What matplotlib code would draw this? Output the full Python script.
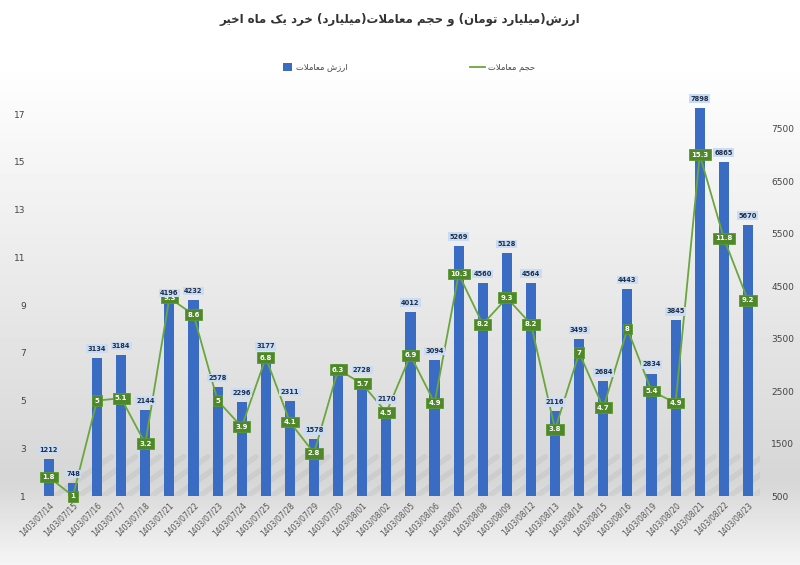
import numpy as np
import matplotlib.pyplot as plt
from matplotlib.lines import Line2D
from matplotlib.patches import Rectangle

# داده ها
dates = ['1403/07/14', '1403/07/15', '1403/07/16', '1403/07/17', '1403/07/18',
         '1403/07/21', '1403/07/22', '1403/07/23', '1403/07/24', '1403/07/25',
         '1403/07/28', '1403/07/29', '1403/07/30', '1403/08/01', '1403/08/02',
         '1403/08/05', '1403/08/06', '1403/08/07', '1403/08/08', '1403/08/09',
         '1403/08/12', '1403/08/13', '1403/08/14', '1403/08/15', '1403/08/16',
         '1403/08/19', '1403/08/20', '1403/08/21', '1403/08/22', '1403/08/23']
value = [1212, 748, 3134, 3184, 2144, 4196, 4232, 2578, 2296, 3177,
         2311, 1578, 3020, 2728, 2170, 4012, 3094, 5269, 4560, 5128,
         4564, 2116, 3493, 2684, 4443, 2834, 3845, 7898, 6865, 5670]
# برچسب میله ۱۴۰۳/۰۷/۳۰ در تصویر دیده نمی شود
value_shown = [True] * 30
value_shown[12] = False
volume = [1.8, 1, 5, 5.1, 3.2, 9.3, 8.6, 5, 3.9, 6.8,
          4.1, 2.8, 6.3, 5.7, 4.5, 6.9, 4.9, 10.3, 8.2, 9.3,
          8.2, 3.8, 7, 4.7, 8, 5.4, 4.9, 15.3, 11.8, 9.2]
left_ticks = [1, 3, 5, 7, 9, 11, 13, 15, 17]
right_ticks = [500, 1500, 2500, 3500, 4500, 5500, 6500, 7500]

title = 'ارزش(میلیارد تومان) و حجم معاملات(میلیارد) خرد یک ماه اخیر'
name_value = 'ارزش معاملات'
name_volume = 'حجم معاملات'

# شکل دادن حروف فارسی (matplotlib خودش این کار را نمی کند)
FORMS = {
    'ا': ('\ufe8d', '\ufe8e', None, None),
    'ت': ('\ufe95', '\ufe96', '\ufe97', '\ufe98'),
    'ج': ('\ufe9d', '\ufe9e', '\ufe9f', '\ufea0'),
    'ح': ('\ufea1', '\ufea2', '\ufea3', '\ufea4'),
    'خ': ('\ufea5', '\ufea6', '\ufea7', '\ufea8'),
    'د': ('\ufea9', '\ufeaa', None, None),
    'ر': ('\ufead', '\ufeae', None, None),
    'ز': ('\ufeaf', '\ufeb0', None, None),
    'ش': ('\ufeb5', '\ufeb6', '\ufeb7', '\ufeb8'),
    'ع': ('\ufec9', '\ufeca', '\ufecb', '\ufecc'),
    'ل': ('\ufedd', '\ufede', '\ufedf', '\ufee0'),
    'م': ('\ufee1', '\ufee2', '\ufee3', '\ufee4'),
    'ن': ('\ufee5', '\ufee6', '\ufee7', '\ufee8'),
    'ه': ('\ufee9', '\ufeea', '\ufeeb', '\ufeec'),
    'و': ('\ufeed', '\ufeee', None, None),
    'ک': ('\ufb8e', '\ufb8f', '\ufb90', '\ufb91'),
    'ی': ('\ufbfc', '\ufbfd', '\ufbfe', '\ufbff'),
}


def fa(s):
    def dual(c):
        return c in FORMS and FORMS[c][2] is not None
    res = []
    i = 0
    n = len(s)
    while i < n:
        c = s[i]
        prev = s[i - 1] if i > 0 else ''
        nxt = s[i + 1] if i < n - 1 else ''
        if c not in FORMS:
            res.append(c)
            i += 1
            continue
        jp = dual(prev)
        if c == 'ل' and nxt == 'ا':
            res.append('\ufefc' if jp else '\ufefb')
            i += 2
            continue
        jn = dual(c) and nxt in FORMS
        iso, fin, ini, med = FORMS[c]
        if jp and jn:
            res.append(med)
        elif jp:
            res.append(fin)
        elif jn:
            res.append(ini)
        else:
            res.append(iso)
        i += 1
    out = ''.join(reversed(res))
    return out.translate(str.maketrans('()', ')('))


plt.rcParams['font.family'] = ['DejaVu Sans']

fig = plt.figure(figsize=(8, 5.65), dpi=100)

# پس زمینه گرادیان
bg = fig.add_axes([0, 0, 1, 1], zorder=-10)
g = np.concatenate([np.full(60, 1.0), np.linspace(1.0, 0.84, 420),
                    np.linspace(0.84, 0.96, 85)])
bg.imshow(np.tile(g[:, None], (1, 10)), cmap='gray', vmin=0, vmax=1,
          aspect='auto', extent=[0, 1, 0, 1])
bg.axis('off')

ax = fig.add_axes([0.046, 0.122, 0.904, 0.701])
ax2 = ax.twinx()
ax.patch.set_visible(False)
ax2.patch.set_visible(False)
ax.set_zorder(ax2.get_zorder() + 1)

x = np.arange(len(dates))

# سایه های مورب پایین نمودار
for xi in x:
    ax2.plot([xi + 0.3, xi + 2.6], [520, 1250], color='#9a9a9a', lw=4,
             alpha=0.16, solid_capstyle='round', zorder=1)

# میله ها روی محور راست
ax2.bar(x, value, width=0.42, bottom=0, color='#3b6cc4', zorder=2)
ax2.set_ylim(500, 8043)

# خط حجم روی محور چپ
ax.plot(x, volume, color='#6aa63c', lw=1.3, zorder=3)
ax.set_ylim(1, 17.59)
for xi, v in zip(x, volume):
    ax.text(xi, v, '%g' % v, ha='center', va='center', fontsize=5,
            fontweight='bold', color='white', zorder=5,
            bbox=dict(boxstyle='square,pad=0.35', fc='#4f872a', ec='#5a9a30', lw=0.6))

# برچسب میله ها روی همه چیز
for xi, v, s in zip(x, value, value_shown):
    if s:
        ax.annotate(str(v), (xi, v), xycoords=ax2.transData,
                    xytext=(0, 6.5), textcoords='offset points',
                    ha='center', va='center', fontsize=4.8, fontweight='bold',
                    color='#1f2d4a', zorder=6,
                    bbox=dict(boxstyle='square,pad=0.2', fc='#c9dcf2', ec='none'))

ax.set_xlim(-0.5, len(dates) - 0.5)
ax.set_xticks(x)
ax.set_xticklabels(dates, rotation=45, ha='right', rotation_mode='anchor',
                   fontsize=5.5, color='#555555')
ax.set_yticks(left_ticks)
ax.set_yticklabels([str(t) for t in left_ticks], fontsize=6.5, color='#444444')
ax2.set_yticks(right_ticks)
ax2.set_yticklabels([str(t) for t in right_ticks], fontsize=6.5, color='#444444')
for a in (ax, ax2):
    for sp in a.spines.values():
        sp.set_visible(False)
    a.tick_params(length=0)
ax.tick_params(axis='y', pad=8)
ax2.tick_params(axis='y', pad=8)
ax.tick_params(axis='x', pad=3)

# عنوان و راهنما
fig.text(0.5, 1 - 19 / 565, fa(title), ha='center', va='center',
         fontsize=8.5, fontweight='bold', color='#333333')
ly = 1 - 67 / 565
fig.patches.append(Rectangle((283 / 800, ly - 4 / 565), 9 / 800, 8 / 565,
                             transform=fig.transFigure, fc='#3b6cc4', ec='none'))
fig.text(296 / 800, ly, fa(name_value), ha='left', va='center', fontsize=6,
         color='#444444')
fig.lines.append(Line2D([470 / 800, 485 / 800], [ly, ly], transform=fig.transFigure,
                        color='#6aa63c', lw=1.3))
fig.text(488 / 800, ly, fa(name_volume), ha='left', va='center', fontsize=6,
         color='#444444')

fig.savefig('out.png', dpi=100)
